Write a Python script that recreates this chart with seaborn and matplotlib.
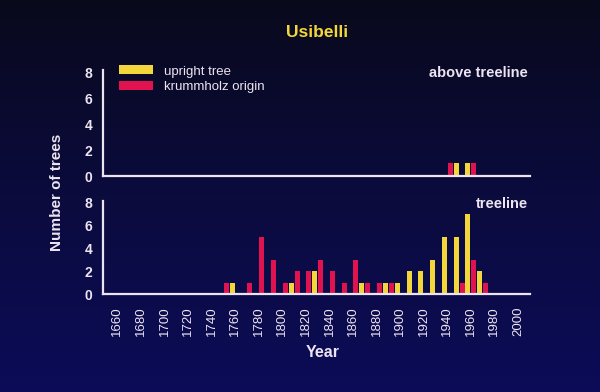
import numpy as np
import pandas as pd
import matplotlib
matplotlib.use("Agg")
import matplotlib.pyplot as plt
import seaborn as sns
from matplotlib.patches import Patch
from matplotlib.colors import LinearSegmentedColormap

# ---------------- data ----------------
decades = [1750, 1760, 1770, 1780, 1790, 1800, 1810, 1820, 1830, 1840, 1850, 1860,
           1870, 1880, 1890, 1900, 1910, 1920, 1930, 1940, 1950, 1960, 1970]
treeline_upright = [1, 0, 0, 0, 0, 1, 0, 2, 0, 0, 0, 1,
                    0, 1, 1, 2, 2, 3, 5, 5, 7, 2, 0]
treeline_krummholz = [1, 0, 1, 5, 3, 1, 2, 2, 3, 2, 1, 3,
                      1, 1, 1, 0, 0, 0, 0, 0, 1, 3, 1]
above_decades = [1940, 1950, 1960]
above_upright = [1, 1, 0]
above_krummholz = [1, 0, 1]
series_names = ["upright tree", "krummholz origin"]
year_ticks = list(range(1660, 2001, 20))
count_ticks = [0, 2, 4, 6, 8]
title = "Usibelli"
panel_labels = ["above treeline", "treeline"]

YELLOW = "#f2d63a"
RED = "#e0124f"
TXT = "#ece4f0"

sns.set_style("dark")
plt.rcParams["font.family"] = ["Liberation Sans", "DejaVu Sans"]


def make_frame(dec, up, kr):
    n = len(dec)
    return pd.DataFrame({
        "year": list(np.array(dec) + 5) * 2,
        "count": list(up) + list(kr),
        "type": [series_names[0]] * n + [series_names[1]] * n,
    })


fig = plt.figure(figsize=(6.0, 3.92), dpi=100)

# background gradient
bg = fig.add_axes([0, 0, 1, 1], zorder=-10)
cmap = LinearSegmentedColormap.from_list("bg", ["#09091c", "#0b0b3e", "#0c0c58"])
grad = np.linspace(0, 1, 256).reshape(-1, 1)
bg.imshow(grad, aspect="auto", cmap=cmap, extent=[0, 1, 0, 1])
bg.set_axis_off()

ax_top = fig.add_axes([0.172, 0.551, 0.711, 0.271])
ax_bot = fig.add_axes([0.172, 0.250, 0.711, 0.238])

frames = [make_frame(above_decades, above_upright, above_krummholz),
          make_frame(decades, treeline_upright, treeline_krummholz)]

for ax, df, lab in zip([ax_top, ax_bot], frames, panel_labels):
    ax.set_facecolor("none")
    sns.barplot(data=df, x="year", y="count", hue="type",
                hue_order=[series_names[1], series_names[0]],
                palette={series_names[0]: YELLOW, series_names[1]: RED},
                native_scale=True, width=1.0, gap=0.15, dodge=True,
                saturation=1, linewidth=0, errorbar=None, legend=False, ax=ax)
    ax.set_xlim(1648, 2010)
    ax.set_ylim(0, 8.2)
    ax.set_xticks(year_ticks)
    ax.set_yticks(count_ticks)
    ax.set_yticklabels([str(t) for t in count_ticks], fontweight="bold")
    ax.set_xlabel("")
    ax.set_ylabel("")
    ax.grid(False)
    for s in ["top", "right"]:
        ax.spines[s].set_visible(False)
    for s in ["left", "bottom"]:
        ax.spines[s].set_visible(True)
        ax.spines[s].set_color(TXT)
        ax.spines[s].set_linewidth(1.6)
    ax.tick_params(axis="both", colors=TXT, labelcolor=TXT, length=3, width=1,
                   direction="out")
    ax.tick_params(axis="y", pad=5, labelsize=10)
    ax.text(0.995, 0.97, lab, transform=ax.transAxes, ha="right", va="center",
            color=TXT, fontsize=10.5, fontweight="bold")

ax_top.tick_params(axis="x", labelbottom=False)
ax_bot.set_xticklabels([str(t) for t in year_ticks], rotation=90)
ax_bot.tick_params(axis="x", labelsize=9.5, pad=6)

handles = [Patch(facecolor=YELLOW, edgecolor="none"),
           Patch(facecolor=RED, edgecolor="none")]
ax_top.legend(handles, series_names, loc="upper left", bbox_to_anchor=(0.025, 1.09),
              frameon=False, fontsize=9.5, handlelength=2.6, handleheight=0.65,
              labelspacing=0.25, handletextpad=0.8, labelcolor=TXT, borderaxespad=0)

fig.text(0.528, 0.918, title, ha="center", va="center", color=YELLOW,
         fontsize=12.5, fontweight="bold")
fig.text(0.095, 0.508, "Number of trees", rotation=90, ha="center", va="center",
         color=TXT, fontsize=11, fontweight="bold")
fig.text(0.538, 0.102, "Year", ha="center", va="center", color=TXT,
         fontsize=11.5, fontweight="bold")

fig.savefig("out.png", dpi=100)
